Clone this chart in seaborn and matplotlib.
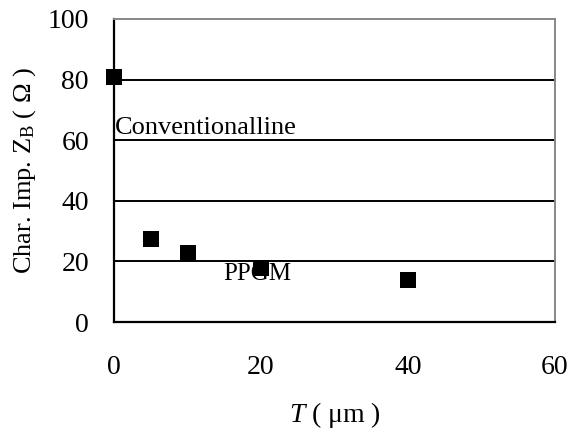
import matplotlib
matplotlib.use("Agg")
import matplotlib.pyplot as plt
import seaborn as sns
import pandas as pd

thickness = [0, 5, 10, 20, 40]
impedance = [81, 27.4, 22.8, 17.8, 13.9]
x_ticks = [0, 20, 40, 60]
y_ticks = [0, 20, 40, 60, 80, 100]

sns.set_style("white")
plt.rcParams['font.family'] = ['Liberation Serif', 'DejaVu Serif']
plt.rcParams['mathtext.fontset'] = 'custom'
plt.rcParams['mathtext.rm'] = 'Liberation Serif'
plt.rcParams['mathtext.it'] = 'Liberation Serif:italic'
plt.rcParams['text.color'] = 'black'
plt.rcParams['axes.labelcolor'] = 'black'
plt.rcParams['xtick.color'] = 'black'
plt.rcParams['ytick.color'] = 'black'

df = pd.DataFrame({"T": thickness, "Z": impedance})

fig = plt.figure(figsize=(5.71, 4.30), dpi=100)
ax = fig.add_axes([114/571, 1-322/430, (555-114)/571, (322-19)/430])

for yv in y_ticks[1:-1]:
    ax.axhline(yv, color='black', lw=1.4, zorder=1)

sns.scatterplot(data=df, x="T", y="Z", marker='s', s=125, color='black',
                edgecolor='black', linewidth=0, ax=ax, zorder=3, clip_on=False)

ax.set_xlim(0, 60)
ax.set_ylim(0, 100)
ax.set_xticks(x_ticks)
ax.set_yticks(y_ticks)
ax.tick_params(axis='x', direction='in', length=6, width=1.2, labelsize=20, pad=24)
ax.tick_params(axis='y', length=0, labelsize=20, pad=18)

for s in ['left', 'bottom']:
    ax.spines[s].set_color('black')
    ax.spines[s].set_linewidth(1.6)
for s in ['top', 'right']:
    ax.spines[s].set_color('#888888')
    ax.spines[s].set_linewidth(1.4)

ax.set_xlabel(r"$T\,\,$( μm )", fontsize=20, labelpad=14)
ax.set_ylabel(r"Char. Imp. Z$_{\rm B}$ ( Ω )", fontsize=19, labelpad=7)

ax.text(0.1, 62.0, "Conventionalline", fontsize=19, ha='left', va='baseline')
ax.text(19.5, 16.0, "PPGM", fontsize=18, ha='center', va='center', zorder=4)

fig.savefig("out.png", dpi=100)
